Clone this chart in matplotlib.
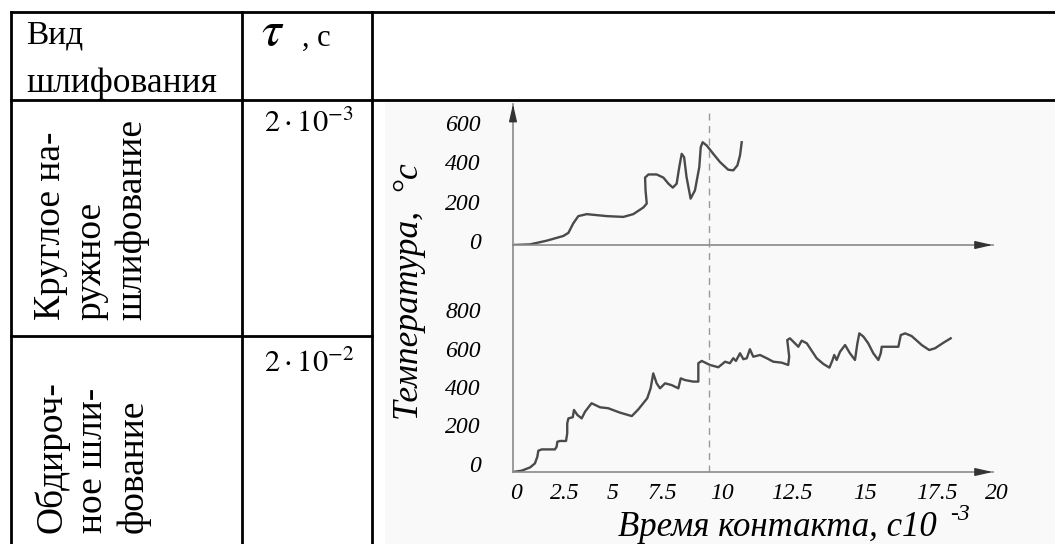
import numpy as np
import matplotlib
matplotlib.use("Agg")
import matplotlib.pyplot as plt

plt.rcParams["font.family"] = ["Liberation Serif", "DejaVu Serif"]
plt.rcParams["mathtext.fontset"] = "stix"

# ----------------------------------------------------------
# Data (x: axis units, y: temperature)
# ----------------------------------------------------------
upper_x = [0, 0.7, 1.4, 2.09, 2.3, 2.5, 2.71, 3.06, 3.89, 4.58, 4.99, 5.41,
           5.55, 5.5, 5.48, 5.62, 5.96, 6.24, 6.45, 6.63, 6.79, 6.9, 7.0,
           7.1, 7.2, 7.37, 7.55, 7.73, 7.79, 7.87, 8.04, 8.31, 8.59, 8.93,
           9.14, 9.31, 9.42, 9.49]
upper_y = [0, 3, 22, 46, 62, 110, 147, 157, 147, 143, 157, 191,
           211, 278, 343, 359, 359, 343, 312, 292, 312, 397, 464,
           447, 346, 236, 278, 397, 498, 523, 506, 464, 422, 383,
           380, 405, 456, 523]

lower_x = [0, 0.36, 0.71, 0.91, 1.01, 1.05, 1.19, 1.74, 1.81, 1.84, 1.95,
           2.2, 2.25, 2.25, 2.3, 2.48, 2.53, 2.67, 2.85, 2.99, 3.26, 3.61,
           3.95, 4.44, 4.93, 5.2, 5.57, 5.71, 5.82, 5.96, 6.1, 6.31, 6.58,
           6.86, 6.96, 7.14, 7.48, 7.69, 7.69, 7.83, 8.17, 8.52, 8.8, 9.0,
           9.14, 9.25, 9.42, 9.56, 9.7, 9.83, 9.97, 10.25, 10.53, 10.8,
           11.15, 11.42, 11.46, 11.38, 11.49, 11.7, 11.84, 11.98, 12.19,
           12.6, 12.88, 13.13, 13.26, 13.33, 13.43, 13.57, 13.78, 13.98,
           14.19, 14.29, 14.37, 14.54, 14.74, 14.95, 15.16, 15.26, 15.3,
           15.51, 15.99, 16.09, 16.27, 16.54, 16.96, 17.27, 17.51, 17.86,
           18.16]
lower_y = [0, 7, 24, 45, 80, 111, 118, 118, 132, 158, 162,
           162, 202, 254, 280, 286, 324, 298, 280, 315, 359, 338,
           333, 310, 292, 327, 385, 437, 515, 463, 437, 463, 454,
           437, 489, 480, 472, 472, 568, 580, 559, 547, 576, 568,
           594, 580, 620, 589, 594, 641, 602, 611, 594, 576,
           571, 559, 602, 689, 698, 672, 654, 686, 672,
           594, 564, 545, 585, 611, 585, 628, 663, 620,
           585, 672, 724, 707, 672, 620, 585, 620, 654,
           654, 654, 715, 724, 710, 663, 637, 646, 675,
           698]

x_tick_labels = ["0", "2.5", "5", "7.5", "10", "12.5", "15", "17.5", "20"]
x_tick_pos = [0.12, 2.16, 4.15, 6.18, 8.67, 11.58, 14.61, 17.6, 20.08]
upper_yticks = [0, 200, 400, 600]
lower_yticks = [0, 200, 400, 600, 800]
dash_x = 8.13

header_lines = ["Вид", "шлифования"]
row_names = ["Круглое на-\nружное\nшлифование", "Обдироч-\nное шли-\nфование"]
tau_values = [r"$2\cdot10^{-3}$", r"$2\cdot10^{-2}$"]

# ----------------------------------------------------------
# Layout (pixels of the 1055x544 picture)
# ----------------------------------------------------------
W, H = 1055, 544
AX_X0 = 513          # y-axis position
PX_PER_UNIT = 24.1
X_MAX = 20.3
UP_ZERO, UP_TOP = 245, 104
LO_ZERO = 472
UP_PX200, LO_PX200 = 39.3, 38.3

AXIS_COL = "#8a8a8a"
HEAD_COL = "#333333"
CURVE_COL = "#4a4a4a"

fig = plt.figure(figsize=(W / 100, H / 100), dpi=100)

# background axes in pixel coordinates: table + labels
bg = fig.add_axes([0, 0, 1, 1])
bg.set_xlim(0, W)
bg.set_ylim(H, 0)
bg.axis("off")

bg.add_patch(plt.Rectangle((385, 102), W - 385, H - 102,
                           facecolor="#f9f9f9", edgecolor="none"))

lw_t = 2.0
bg.plot([11, W], [12, 12], color="k", lw=lw_t)
bg.plot([11, W], [100, 100], color="k", lw=lw_t)
bg.plot([11, 372], [336, 336], color="k", lw=lw_t)
for xv in (11, 242, 372):
    bg.plot([xv, xv], [12, H], color="k", lw=lw_t)

# header cells
bg.text(26, 43, header_lines[0], fontsize=24, va="baseline", ha="left")
bg.text(26, 92, header_lines[1], fontsize=25.5, va="baseline", ha="left")
bg.text(273, 33, r"$\tau$", fontsize=36, ha="center", va="center")
bg.text(302, 46, ", с", fontsize=22, ha="left", va="baseline")

# body cells
for name, bottom in zip(row_names, (320, 533)):
    bg.text(34, bottom, name, fontsize=27, rotation=90, ha="left",
            va="bottom", multialignment="left", linespacing=1.22)
for tau, base in zip(tau_values, (132, 372)):
    bg.text(264, base, tau, fontsize=22, ha="left", va="baseline")

# axis titles
bg.text(410, 292, "Температура,  °c", fontsize=25.5, fontstyle="italic",
        rotation=90, ha="center", va="center")
bg.text(618, 536, "Время контакта, с10", fontsize=25, fontstyle="italic",
        ha="left", va="baseline")
bg.text(950, 520, "-3", fontsize=17, fontstyle="italic",
        ha="left", va="baseline")

# ----------------------------------------------------------
# Two chart panels sharing the y-axis line
# ----------------------------------------------------------
ax_w = X_MAX * PX_PER_UNIT / W
ax1 = fig.add_axes([AX_X0 / W, 1 - UP_ZERO / H, ax_w, (UP_ZERO - UP_TOP) / H])
ax2 = fig.add_axes([AX_X0 / W, 1 - LO_ZERO / H, ax_w, (LO_ZERO - UP_ZERO) / H])

ax1.set_ylim(0, (UP_ZERO - UP_TOP) * 200 / UP_PX200)
ax2.set_ylim(0, (LO_ZERO - UP_ZERO) * 200 / LO_PX200)

for ax in (ax1, ax2):
    ax.set_facecolor("none")
    ax.set_xlim(0, X_MAX)
    ax.spines[["top", "right"]].set_visible(False)
    for s in ("left", "bottom"):
        ax.spines[s].set_color(AXIS_COL)
        ax.spines[s].set_linewidth(1.2)
    ax.spines["bottom"].set_bounds(0, 19.9)
    ax.annotate("", xy=(19.9, 0), xytext=(19.3, 0),
                arrowprops=dict(arrowstyle="-|>,head_length=0.7,head_width=0.16",
                                color=HEAD_COL, lw=1, mutation_scale=15,
                                shrinkA=0, shrinkB=0))
    ax.tick_params(length=0)

ax1.annotate("", xy=(0, 1), xytext=(0, 0.9), xycoords="axes fraction",
             arrowprops=dict(arrowstyle="-|>,head_length=0.7,head_width=0.16",
                             color=HEAD_COL, lw=1, mutation_scale=15,
                             shrinkA=0, shrinkB=0))

ax1.plot(upper_x, upper_y, color=CURVE_COL, lw=1.7, solid_joinstyle="round")
ax2.plot(lower_x, lower_y, color=CURVE_COL, lw=1.7, solid_joinstyle="round")

ax1.axvline(dash_x, ymin=0, ymax=(UP_ZERO - 110) / (UP_ZERO - UP_TOP),
            color="#9a9a9a", lw=1.0, dashes=(5, 4))
ax2.axvline(dash_x, color="#9a9a9a", lw=1.0, dashes=(5, 4))

tick_font = dict(fontsize=17, fontstyle="italic")
ax1.set_xticks([])
ax1.set_yticks(np.array(upper_yticks) + 20,
               labels=[str(v) for v in upper_yticks], **tick_font)
ax2.set_yticks(np.array(lower_yticks) + 44,
               labels=[str(v) for v in lower_yticks], **tick_font)
ax2.set_xticks(x_tick_pos, labels=x_tick_labels, **tick_font)
ax1.tick_params(axis="y", pad=23)
ax2.tick_params(axis="y", pad=23)
ax2.tick_params(axis="x", pad=8)

fig.savefig("out.png", dpi=100)
